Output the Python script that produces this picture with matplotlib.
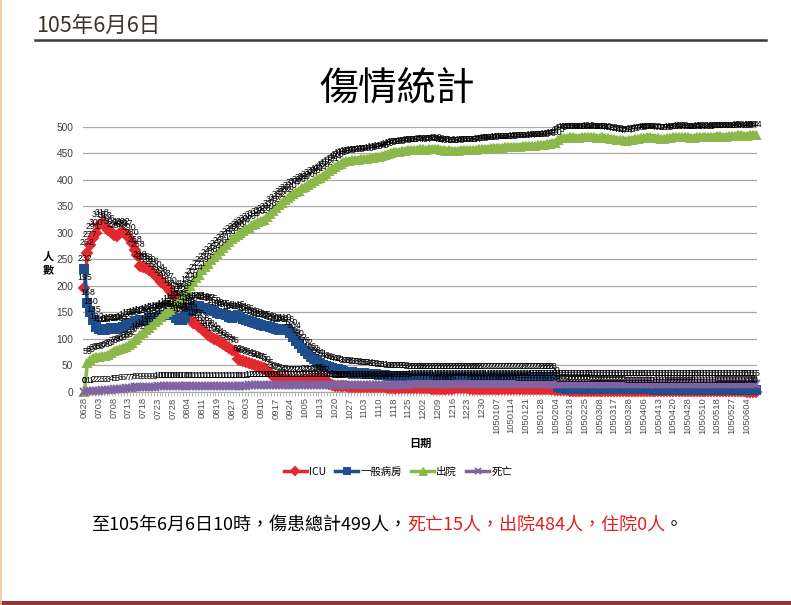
import numpy as np
import matplotlib
matplotlib.use("Agg")
import matplotlib.pyplot as plt
from matplotlib.patches import Rectangle

plt.rcParams["font.family"] = ["Noto Sans CJK TC", "DejaVu Sans"]

W, H = 791, 605

SLIDE_DATE = "105年6月6日"
CHART_TITLE = "傷情統計"
SERIES_NAMES = ["ICU", "一般病房", "出院", "死亡"]
SUMMARY_BLACK = "至105年6月6日10時，傷患總計499人，"
SUMMARY_RED = "死亡15人，出院484人，住院0人"
SUMMARY_END = "。"

# one label every 5 categories
tick_labels = [
    "0628", "0703", "0708", "0713", "0718", "0723", "0728", "0804", "0811",
    "0819", "0827", "0903", "0910", "0917", "0924", "1005", "1013", "1020",
    "1027", "1103", "1110", "1118", "1125", "1202", "1209", "1216", "1223",
    "1230", "1050107", "1050114", "1050121", "1050128", "1050204", "1050218",
    "1050225", "1050308", "1050317", "1050328", "1050406", "1050413",
    "1050420", "1050428", "1050510", "1050518", "1050527", "1050604",
]

icu = [
    195, 262, 277, 291, 300, 315, 318, 313, 306, 301,
    296, 294, 300, 302, 297, 290, 280, 268, 258, 238,
    235, 233, 230, 226, 220, 214, 208, 203, 197, 190,
    184, 178, 172, 165, 158, 148, 138, 130, 127, 123,
    118, 113, 108, 104, 100, 97, 94, 90, 86, 82,
    78, 76, 62, 60, 58, 56, 54, 52, 50, 48,
    47, 45, 40, 35, 30, 27, 25, 24, 23, 22,
    22, 21, 22, 21, 22, 23, 22, 22, 23, 24,
    25, 24, 22, 14, 12, 11, 11, 10, 10, 10,
    9, 9, 9, 9, 9, 8, 8, 8, 8, 8,
    8, 8, 8, 7, 7, 7, 7, 7, 7, 7,
    7, 7, 7, 7, 7, 7, 7, 7, 6, 6,
    6, 6, 6, 6, 6, 6, 7, 7, 7, 7,
    7, 6, 6, 6, 6, 6, 6, 6, 6, 6,
    6, 6, 6, 6, 6, 6, 6, 5, 5, 5,
    5, 5, 5, 5, 5, 5, 5, 5, 5, 5,
    4, 3, 3, 3, 3, 2, 2, 2, 2, 2,
    2, 2, 2, 2, 2, 2, 2, 2, 2, 2,
    2, 2, 2, 2, 1, 1, 1, 1, 1, 1,
    1, 1, 1, 1, 1, 1, 1, 1, 1, 1,
    1, 1, 1, 1, 1, 1, 1, 1, 1, 1,
    1, 1, 1, 1, 1, 1, 1, 1, 1, 1,
    1, 1, 1, 1, 1, 0, 0, 0, 0,
]

ward = [
    232, 168, 150, 135, 122, 118, 116, 117, 118, 120,
    119, 118, 120, 122, 126, 130, 130, 131, 133, 135,
    134, 136, 139, 140, 140, 142, 143, 144, 145, 146,
    144, 140, 136, 135, 142, 150, 155, 160, 162, 161,
    159, 158, 157, 155, 152, 149, 147, 146, 144, 141,
    140, 143, 145, 141, 138, 136, 134, 132, 130, 128,
    126, 125, 124, 122, 120, 118, 116, 118, 119, 116,
    110, 104, 96, 90, 82, 76, 72, 66, 62, 58,
    54, 51, 48, 46, 45, 43, 42, 41, 39, 38,
    38, 37, 36, 36, 35, 35, 34, 34, 33, 33,
    32, 31, 31, 30, 30, 30, 29, 29, 29, 29,
    28, 28, 28, 28, 28, 28, 28, 28, 28, 28,
    28, 28, 28, 28, 28, 28, 28, 28, 28, 28,
    28, 28, 28, 28, 28, 27, 27, 27, 27, 27,
    27, 27, 27, 27, 27, 27, 27, 27, 27, 27,
    27, 27, 27, 27, 27, 28, 28, 28, 28, 28,
    20, 8, 7, 7, 6, 6, 6, 6, 6, 6,
    6, 6, 5, 5, 5, 5, 5, 5, 5, 5,
    5, 5, 5, 5, 5, 5, 5, 5, 5, 5,
    5, 5, 5, 5, 4, 4, 4, 4, 4, 4,
    4, 4, 4, 4, 4, 4, 4, 4, 4, 4,
    4, 4, 4, 4, 4, 3, 3, 3, 3, 3,
    3, 3, 3, 3, 3, 3, 3, 3, 3,
]

discharged = [
    0, 55, 60, 63, 65, 66, 67, 68, 70, 73,
    76, 78, 80, 83, 85, 88, 92, 97, 102, 107,
    111, 116, 121, 126, 131, 136, 141, 146, 150, 155,
    160, 166, 172, 178, 185, 192, 200, 207, 214, 221,
    229, 236, 242, 248, 254, 260, 266, 271, 277, 283,
    288, 292, 296, 300, 304, 307, 310, 314, 317, 320,
    322, 325, 330, 336, 342, 347, 352, 357, 362, 366,
    370, 374, 377, 380, 384, 387, 390, 394, 398, 401,
    404, 408, 412, 417, 421, 424, 428, 431, 433, 435,
    436, 437, 438, 438, 439, 439, 440, 441, 442, 443,
    444, 445, 447, 449, 450, 452, 453, 453, 454, 455,
    456, 456, 457, 457, 458, 458, 457, 458, 458, 459,
    458, 457, 456, 455, 456, 455, 454, 455, 456, 456,
    457, 456, 457, 457, 458, 458, 459, 459, 460, 460,
    461, 461, 461, 462, 462, 462, 463, 463, 463, 464,
    464, 464, 465, 465, 466, 466, 466, 467, 468, 469,
    470, 475, 479, 480, 480, 481, 481, 480, 480, 481,
    481, 482, 481, 481, 480, 480, 481, 480, 479, 478,
    477, 476, 475, 475, 474, 475, 476, 477, 478, 479,
    480, 481, 481, 480, 480, 479, 478, 478, 479, 480,
    481, 481, 482, 482, 481, 481, 480, 480, 481, 482,
    482, 481, 481, 482, 482, 483, 483, 482, 482, 483,
    483, 483, 484, 484, 483, 483, 484, 484, 484,
]

deaths = [
    0, 1, 1, 2, 2, 2, 3, 3, 3, 4,
    5, 5, 6, 6, 7, 7, 7, 8, 8, 9,
    9, 9, 9, 9, 9, 10, 10, 10, 10, 10,
    10, 10, 10, 10, 10, 11, 11, 11, 11, 11,
    11, 11, 11, 11, 11, 11, 11, 11, 11, 11,
    11, 11, 11, 11, 11, 11, 12, 12, 12, 12,
    12, 12, 12, 12, 12, 12, 12, 12, 12, 12,
    12, 12, 12, 12, 12, 12, 13, 13, 13, 13,
    13, 13, 13, 13, 13, 13, 13, 13, 13, 13,
    13, 13, 13, 13, 13, 13, 13, 13, 13, 13,
    13, 13, 13, 13, 13, 13, 13, 13, 13, 13,
    13, 14, 14, 14, 14, 14, 14, 14, 14, 14,
    14, 14, 14, 14, 14, 14, 14, 14, 14, 14,
    14, 14, 14, 14, 14, 14, 14, 14, 14, 14,
    14, 14, 14, 14, 14, 14, 14, 14, 14, 14,
    14, 15, 15, 15, 15, 15, 15, 15, 15, 15,
    15, 15, 15, 15, 15, 15, 15, 15, 15, 15,
    15, 15, 15, 15, 15, 15, 15, 15, 15, 15,
    15, 15, 15, 15, 15, 15, 15, 15, 15, 15,
    15, 15, 15, 15, 15, 15, 15, 15, 15, 15,
    15, 15, 15, 15, 15, 15, 15, 15, 15, 15,
    15, 15, 15, 15, 15, 15, 15, 15, 15, 15,
    15, 15, 15, 15, 15, 15, 15, 15, 15,
]

STYLES = [
    dict(color="#e3292f", marker="D", ms=5.2),
    dict(color="#1f4e8c", marker="s", ms=5.8),
    dict(color="#8cb84a", marker="^", ms=6.3),
    dict(color="#8064a2", marker="x", ms=5.5),
]


def fx(px):
    return px / W


def fy(py):
    return 1 - py / H


def draw_series(ax, values, name, style):
    x = np.arange(len(values))
    line, = ax.plot(x, values, color=style["color"], lw=2.5,
                    marker=style["marker"], ms=style["ms"],
                    mec=style["color"], mfc=style["color"], mew=1.4,
                    label=name, zorder=3, clip_on=False)
    for i, v in enumerate(values):
        ax.annotate(str(v), (i, v), xytext=(0, 4.5), textcoords="offset points",
                    ha="center", va="bottom", fontsize=6.3,
                    family="Liberation Sans", color="black", zorder=5,
                    annotation_clip=False)
    return line


def main():
    fig = plt.figure(figsize=(W / 100, H / 100), dpi=100)
    fig.patch.set_facecolor("white")

    # slide header
    fig.text(fx(36), fy(26), SLIDE_DATE, fontsize=15.5, color="#3d3328",
             ha="left", va="center")
    fig.add_artist(plt.Line2D([fx(35), fx(766)], [fy(40), fy(40)],
                              color="#3a3a3a", lw=1.8))
    fig.add_artist(plt.Line2D([fx(0.8), fx(0.8)], [0, 1],
                              color="#f1c594", lw=1.2))
    fig.add_artist(Rectangle((0, 0), 1, fy(601), transform=fig.transFigure,
                             color="#8e3a30", lw=0))

    fig.text(fx(397), fy(89), CHART_TITLE, fontsize=28, color="black",
             ha="center", va="center", fontweight="light")

    ax = fig.add_axes([fx(83), fy(391.7), fx(757 - 83), (391.7 - 127) / H])
    n = len(discharged)
    lines = []
    for values, name, style in zip([icu, ward, discharged, deaths],
                                   SERIES_NAMES, STYLES):
        lines.append(draw_series(ax, values, name, style))

    ax.set_xlim(-0.5, n - 0.5)
    ax.set_ylim(0, 500)
    ax.set_yticks(np.arange(0, 501, 50))
    ax.grid(axis="y", color="#a8a8a8", lw=0.9)
    ax.set_axisbelow(True)
    for s in ["left", "right", "top"]:
        ax.spines[s].set_visible(False)
    ax.spines["bottom"].set_color("#a8a8a8")
    ax.tick_params(axis="y", length=0, labelsize=7.3, labelcolor="#404040",
                   pad=7)
    for lab in ax.get_yticklabels():
        lab.set_family("Liberation Sans")

    major = np.arange(0, 5 * len(tick_labels), 5)
    ax.set_xticks(major)
    ax.set_xticklabels(tick_labels, rotation=90, fontsize=6.8,
                       family="Liberation Sans", color="#505050")
    ax.set_xticks(np.arange(n) - 0.5, minor=True)
    ax.tick_params(axis="x", which="major", length=0, pad=4)
    ax.tick_params(axis="x", which="minor", length=3, color="#a8a8a8")

    fig.text(fx(48), fy(263), "人\n數", fontsize=8, ha="center", va="center",
             linespacing=1.05, fontweight="bold")
    fig.text(fx(420), fy(443), "日期", fontsize=8, ha="center", va="center",
             fontweight="bold")

    fig.legend(handles=lines, labels=SERIES_NAMES, loc="center",
               bbox_to_anchor=(fx(398), fy(472)), ncol=4, frameon=False,
               fontsize=7.5, handlelength=2.2, columnspacing=0.9,
               handletextpad=0.2, markerscale=0.8)

    # summary line with red part
    fig.canvas.draw()
    renderer = fig.canvas.get_renderer()
    x = fx(91)
    for txt, col in [(SUMMARY_BLACK, "black"), (SUMMARY_RED, "#e02020"),
                     (SUMMARY_END, "black")]:
        t = fig.text(x, fy(525), txt, fontsize=13, color=col, ha="left",
                     va="center")
        bb = t.get_window_extent(renderer)
        x = bb.x1 / fig.bbox.width

    fig.savefig("out.png", dpi=100, facecolor="white")


if __name__ == "__main__":
    main()
